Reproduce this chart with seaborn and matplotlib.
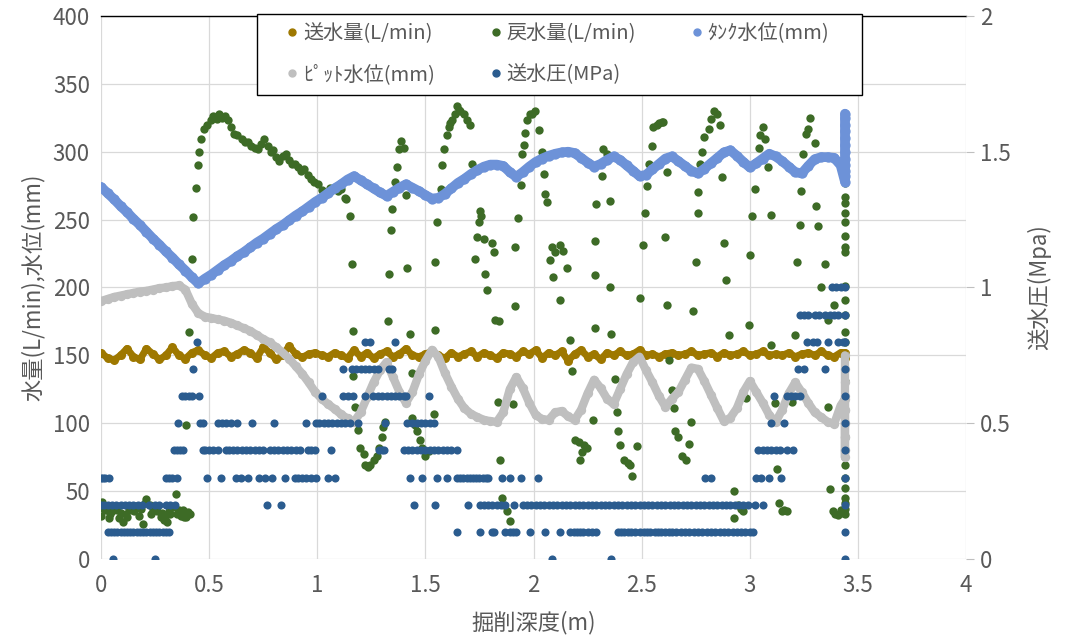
import numpy as np
import pandas as pd
import seaborn as sns
import matplotlib.pyplot as plt
from matplotlib.lines import Line2D
from matplotlib.patches import Rectangle
from matplotlib.ticker import MultipleLocator, FuncFormatter

# sampling depth (m) for the continuous series
depth = [
    0.00, 0.03, 0.06, 0.09, 0.12, 0.15, 0.18, 0.21, 0.24, 0.27,
    0.30, 0.33, 0.36, 0.39, 0.42, 0.45, 0.48, 0.51, 0.54, 0.57,
    0.60, 0.63, 0.66, 0.69, 0.72, 0.75, 0.78, 0.81, 0.84, 0.87,
    0.90, 0.93, 0.96, 0.99, 1.02, 1.05, 1.08, 1.11, 1.14, 1.17,
    1.20, 1.23, 1.26, 1.29, 1.32, 1.35, 1.38, 1.41, 1.44, 1.47,
    1.50, 1.53, 1.56, 1.59, 1.62, 1.65, 1.68, 1.71, 1.74, 1.77,
    1.80, 1.83, 1.86, 1.89, 1.92, 1.95, 1.98, 2.01, 2.04, 2.07,
    2.10, 2.13, 2.16, 2.19, 2.22, 2.25, 2.28, 2.31, 2.34, 2.37,
    2.40, 2.43, 2.46, 2.49, 2.52, 2.55, 2.58, 2.61, 2.64, 2.67,
    2.70, 2.73, 2.76, 2.79, 2.82, 2.85, 2.88, 2.91, 2.94, 2.97,
    3.00, 3.03, 3.06, 3.09, 3.12, 3.15, 3.18, 3.21, 3.24, 3.27,
    3.30, 3.33, 3.36, 3.39, 3.42,
]

supply_flow = [
    152, 148, 146.5, 150, 155, 149, 147, 155, 151, 147,
    150, 156, 150, 147.5, 152, 154, 150, 148, 152, 153,
    149, 151, 154, 152, 148, 156, 152, 147, 150, 157,
    151, 148.5, 151, 152, 150, 149, 152, 150, 148, 154,
    149, 152, 148, 151, 153, 149, 151, 155, 150, 149,
    151, 153, 150, 148, 152, 149, 151, 153, 149, 152,
    150, 148, 152, 151, 149, 153, 151, 154, 148, 152,
    150, 153, 146, 151, 154, 149, 151, 147, 152, 150,
    153, 150, 151, 154, 150, 151, 149, 151, 152, 150,
    151, 153, 150, 151, 152, 149, 152, 150, 151, 153,
    150, 151, 153, 150, 151, 150, 152, 149, 151, 152,
    150, 153, 150, 149, 152,
]

tank_level = [
    274, 269.5, 265, 260, 255.5, 250.5, 246, 241, 236, 231.5,
    226.5, 222, 217, 212.5, 207.5, 203, 206.5, 209.5, 213, 216.5,
    219.5, 223, 226, 229.5, 233, 236, 239.5, 243, 246, 249.5,
    253, 256, 259.5, 263, 266, 269.5, 273, 276, 279.5, 282,
    279, 276, 273, 270, 267.5, 270.5, 273.5, 276, 273.5, 271,
    268, 265.5, 266, 269, 273, 277, 280, 283.5, 286.5, 289,
    290.5, 290.5, 289.5, 285, 281.5, 285, 289, 292.5, 295, 297,
    298.5, 299.5, 300, 299, 295.5, 292, 289, 291, 294, 296.5,
    294, 290, 286, 282, 283, 287, 291, 295, 296.5, 293,
    289.5, 286, 284, 287.5, 291.5, 295.5, 299.5, 301, 297, 292.5,
    288.5, 291.5, 295, 298.5, 296.5, 293, 289, 285, 284, 289.5,
    294.5, 296, 296, 295.5, 290,
]

pit_level = [
    190, 191.5, 193, 194, 195, 196, 197, 197.5, 198.5, 199.5,
    200, 201, 201.5, 198.5, 188, 181, 178.5, 177.5, 176.5, 175.5,
    174, 172, 170, 168, 165, 162, 159.5, 156, 152, 147.5,
    142, 136.5, 130, 123, 118, 114, 110.5, 106.5, 103.5, 101,
    108, 119, 130, 139, 145, 134, 123, 115, 123, 136,
    146, 154, 149, 137, 127, 118, 111, 107, 104.5, 102.5,
    101.5, 101, 108, 125, 134, 126, 115, 106, 103, 102.5,
    108, 109, 105, 102.5, 110, 122, 132, 126, 118, 114,
    125, 136, 145, 149, 139, 130, 120, 112, 118, 123,
    132, 141, 140, 131, 121, 111, 101.5, 104, 111, 123,
    131, 123, 115, 106, 101, 110, 122, 130, 123, 115,
    108, 104.5, 101, 99.5, 113,
]

# readings at the final depth (3.44 m)
end_depth = 3.44
supply_end = [152, 148, 150]
tank_end = [278, 282, 286, 290, 295, 300, 305, 310, 315, 320, 325, 328]
pit_end = [118, 110, 100, 90, 80, 75, 80, 90, 100, 110, 120, 130, 140, 150]

# return flow (L/min): scattered readings
return_depth = [
    0.00, 0.005, 0.02, 0.035, 0.05, 0.065, 0.085, 0.10, 0.115, 0.13,
    0.145, 0.16, 0.175, 0.195, 0.21, 0.225, 0.24, 0.26, 0.275, 0.29,
    0.307, 0.32, 0.335, 0.347, 0.36, 0.37, 0.385, 0.40, 0.41,
    0.012, 0.042, 0.075, 0.093, 0.122, 0.153, 0.185, 0.203, 0.232, 0.25,
    0.283, 0.298, 0.314, 0.352, 0.378, 0.392,
    0.394, 0.407, 0.42, 0.427, 0.44, 0.449, 0.451, 0.461, 0.477, 0.49,
    0.508, 0.52, 0.535, 0.546, 0.56, 0.575, 0.585, 0.60, 0.615, 0.63,
    0.65, 0.665, 0.678, 0.695, 0.71, 0.724, 0.74, 0.755, 0.77, 0.785,
    0.794, 0.81, 0.825, 0.84, 0.856, 0.87, 0.885, 0.895, 0.91, 0.925,
    0.94, 0.955, 0.97, 0.985, 1.003, 1.02, 1.04, 1.06, 1.08, 1.095,
    1.11, 1.127, 1.135, 1.15, 1.16,
    1.166, 1.166, 1.174, 1.19, 1.198, 1.214, 1.22, 1.235, 1.245, 1.26,
    1.274, 1.285, 1.297, 1.305, 1.315,
    1.325, 1.33, 1.34, 1.346, 1.36, 1.37, 1.377, 1.385, 1.40, 1.408, 1.415,
    1.428, 1.436, 1.44, 1.45, 1.46, 1.476, 1.484, 1.50, 1.516, 1.54, 1.545,
    1.546, 1.554, 1.57, 1.577, 1.585, 1.60, 1.608, 1.615, 1.623, 1.635,
    1.646, 1.655, 1.66, 1.677, 1.69, 1.708,
    1.715, 1.73, 1.738, 1.746, 1.754, 1.758, 1.77, 1.777, 1.785, 1.81,
    1.815, 1.823,
    1.834, 1.842, 1.846, 1.854, 1.865, 1.877, 1.89, 1.906, 1.913,
    1.915, 1.928, 1.94, 1.946, 1.954, 1.96, 1.97, 1.985, 1.995, 2.008,
    2.023, 2.038, 2.046, 2.054, 2.06,
    2.077, 2.085, 2.09, 2.10, 2.123, 2.138, 2.154, 2.123, 2.17, 2.177,
    2.19, 2.208, 2.215, 2.223, 2.235, 2.246, 2.277, 2.285, 2.285, 2.285,
    2.29, 2.315, 2.323, 2.338, 2.354, 2.354, 2.357, 2.377, 2.385, 2.39,
    2.40, 2.42, 2.435, 2.446, 2.454, 2.477, 2.492,
    2.508, 2.515, 2.523, 2.534, 2.546, 2.554, 2.57, 2.58, 2.592, 2.60,
    2.608, 2.615, 2.615, 2.625, 2.64, 2.65, 2.656, 2.67, 2.685, 2.706,
    2.72, 2.73, 2.738,
    2.75, 2.76, 2.76, 2.77, 2.78, 2.79, 2.81, 2.82, 2.836, 2.847,
    2.86, 2.87, 2.88, 2.89, 2.906, 2.925, 2.925, 2.945, 2.96, 2.97,
    2.984, 2.997,
    3.003, 3.01, 3.023, 3.044, 3.047, 3.06, 3.07, 3.083, 3.097, 3.10,
    3.117, 3.128, 3.137, 3.148, 3.16, 3.17, 3.195, 3.208,
    3.216, 3.23, 3.236, 3.245, 3.258, 3.27, 3.278, 3.30, 3.305, 3.316,
    3.328, 3.35, 3.36, 3.36, 3.372, 3.383, 3.39, 3.395, 3.406, 3.42, 3.43,
    3.44, 3.44, 3.44, 3.44, 3.44, 3.44, 3.44, 3.44, 3.44, 3.44,
    3.44, 3.44, 3.44, 3.44, 3.44, 3.44, 3.44, 3.44, 3.44, 3.44,
    3.44, 3.44, 3.44, 3.44,
]
return_flow = [
    32, 42, 36, 30, 35, 38, 30, 27, 33, 37,
    36, 39, 32, 26, 44, 40, 36, 35, 31, 29,
    27, 33, 38, 47.5, 36, 32, 31, 34.5, 33,
    37, 33, 36, 34, 31, 35, 37, 41, 33, 38,
    34, 31, 35, 33, 36, 31,
    99, 167, 221, 252, 273, 290, 300, 309, 317, 320,
    323, 326, 324, 328, 325, 326, 323, 318, 313, 312,
    309, 307, 307, 304, 303, 302, 306, 309, 304, 300,
    301, 296, 293, 297, 298, 294, 291, 291, 289, 286,
    287, 283, 280, 278, 276, 272, 269, 273, 272.5, 271,
    272.5, 266, 265, 252.5, 217,
    168, 135, 112, 95, 82, 77, 69, 67.6, 69, 73,
    76, 82, 90, 97, 101,
    175, 210, 242, 258, 277.5, 289, 302, 308, 303, 268, 214,
    166, 137, 104, 99, 94, 88, 82, 76, 79.5, 107, 169,
    218.6, 248, 272.5, 290, 302, 312, 318, 321, 323, 328,
    334, 331, 330, 328, 323, 319.6,
    291, 221, 237, 248, 256.6, 253, 236, 210, 198, 232.6,
    226, 176,
    115.7, 175, 73, 45, 40, 35, 28, 114.5, 186.5,
    229.6, 251, 275.5, 298, 305, 314, 323, 327.7, 328, 330,
    316, 300, 283.6, 269, 263,
    220, 229.6, 207.6, 226, 231, 227, 214, 190.7, 161, 138.5,
    88, 86.5, 73, 79, 84, 81.6, 102.5, 170, 234.6, 209,
    261.5, 282, 302, 298, 264, 200.5, 165.4, 132.6, 108.6, 94,
    84, 73, 71, 69, 61, 83, 192,
    231, 255, 274.5, 291, 304.4, 318, 320, 321, 322, 321.6,
    237, 285, 187, 146.6, 124.5, 111, 94, 90, 75.5, 73,
    84.6, 101, 182.6,
    219, 270, 255, 291, 300, 310.5, 316.7, 324, 330, 327.7,
    319.6, 281.6, 233, 205.6, 165, 50, 30, 40, 37, 35,
    118.4, 172,
    224, 252.5, 272.5, 302.5, 312, 318, 309, 288.5, 253.4, 157.6,
    114.7, 66, 41, 35, 36, 35, 116, 165,
    218.6, 246.3, 271.3, 298, 313, 316.7, 324.5, 306.4, 260, 245.6,
    200.5, 217.4, 176, 112, 51.7, 35, 187, 33, 32.6, 36, 34,
    33, 37, 41, 45, 52, 60, 69, 80, 90, 131,
    150, 160, 167, 180, 191, 201, 226, 230, 238, 248,
    255, 262, 267, 277,
]

# supply pressure: depths (m) at which each pressure step (MPa) was read
press_0_0 = [0.056, 0.248, 2.085, 2.357, 3.44]
press_0_1 = [0.03, 0.045, 0.06, 0.075, 0.09, 0.105, 0.12, 0.135, 0.15, 0.165,
             0.18, 0.195, 0.21, 0.225, 0.24, 0.255, 0.27, 0.285, 0.30, 0.315,
             1.646, 1.754, 1.808, 1.815, 1.87, 1.89, 1.905, 1.92, 1.985, 2.054,
             2.123, 2.17, 2.185, 2.20, 2.215, 2.23, 2.25, 2.27, 2.29, 2.39,
             2.405, 2.42, 2.435, 2.45, 2.47, 2.49, 2.51, 2.525, 2.54, 2.56,
             2.575, 2.59, 2.61, 2.625, 2.64, 2.66, 2.68, 2.70, 2.72, 2.74,
             2.76, 2.78, 2.80, 2.82, 2.84, 2.86, 2.88, 2.90, 2.92, 2.94,
             2.96, 2.98, 3.00, 3.015, 3.44]
press_0_2 = [0.0, 0.015, 0.03, 0.05, 0.07, 0.09, 0.11, 0.13, 0.15, 0.17,
             0.19, 0.22, 0.25, 0.27, 0.30, 0.32, 0.34, 0.768, 0.83, 1.446,
             1.546, 1.697, 1.754, 1.77, 1.79, 1.81, 1.83, 1.85, 1.87, 1.91,
             1.95, 1.97, 1.99, 2.01, 2.03, 2.05, 2.07, 2.09, 2.11, 2.13,
             2.15, 2.17, 2.19, 2.21, 2.23, 2.25, 2.27, 2.29, 2.31, 2.33,
             2.35, 2.37, 2.39, 2.41, 2.43, 2.45, 2.47, 2.49, 2.51, 2.53,
             2.55, 2.57, 2.59, 2.61, 2.63, 2.65, 2.67, 2.69, 2.71, 2.73,
             2.75, 2.77, 2.79, 2.81, 2.83, 2.85, 2.87, 2.89, 2.91, 2.93,
             2.95, 2.97, 2.99, 3.023, 3.063, 3.44]
press_0_3 = [0.0, 0.01, 0.02, 0.035, 0.30, 0.315, 0.33, 0.35, 0.49, 0.557,
             0.624, 0.645, 0.678, 0.732, 0.76, 0.79, 0.85, 0.895, 0.91, 0.93,
             0.95, 0.97, 0.995, 1.05, 1.08, 1.43, 1.485, 1.554, 1.60, 1.646,
             1.66, 1.675, 1.69, 1.705, 1.72, 1.735, 1.75, 1.765, 1.78, 1.79,
             1.854, 1.89, 1.94, 2.02, 2.795, 2.82, 3.03, 3.05, 3.09, 3.145,
             3.44]
press_0_4 = [0.337, 0.35, 0.365, 0.38, 0.47, 0.48, 0.50, 0.52, 0.54, 0.577,
             0.59, 0.61, 0.63, 0.65, 0.67, 0.69, 0.71, 0.73, 0.75, 0.78,
             0.80, 0.82, 0.84, 0.86, 0.88, 0.90, 0.92, 0.957, 0.97, 0.99,
             1.062, 1.285, 1.30, 1.31, 1.40, 1.42, 1.44, 1.46, 1.48, 1.50,
             1.52, 1.54, 1.56, 1.58, 1.60, 1.62, 1.646, 3.04, 3.06, 3.08,
             3.10, 3.12, 3.14, 3.17, 3.20, 3.44]
press_0_5 = [0.356, 0.458, 0.47, 0.54, 0.56, 0.58, 0.60, 0.63, 0.70, 0.80,
             0.95, 0.995, 1.01, 1.03, 1.05, 1.07, 1.09, 1.11, 1.13, 1.15,
             1.19, 1.315, 1.415, 1.44, 1.46, 1.48, 1.50, 1.52, 1.54, 3.10,
             3.16, 3.44]
press_0_6 = [0.376, 0.39, 0.405, 0.42, 0.453, 1.023, 1.12, 1.14, 1.165, 1.22,
             1.258, 1.28, 1.30, 1.32, 1.34, 1.36, 1.38, 1.40, 1.41, 1.515,
             3.113, 3.17, 3.19, 3.21, 3.23, 3.44]
press_0_7 = [0.427, 1.12, 1.16, 1.18, 1.20, 1.22, 1.24, 1.26, 1.28, 1.33,
             1.345, 3.225, 3.25, 3.35, 3.44]
press_0_8 = [0.443, 1.22, 1.243, 1.358, 3.264, 3.29, 3.31, 3.36, 3.41, 3.43, 3.44]
press_0_9 = [3.23, 3.25, 3.27, 3.30, 3.32, 3.35, 3.37, 3.39, 3.41, 3.44]
press_1_0 = [3.38, 3.40, 3.42, 3.44]

labels = ["送水量(L/min)", "戻水量(L/min)", "ﾀﾝｸ水位(mm)", "ﾋﾟｯﾄ水位(mm)", "送水圧(MPa)"]
colors = ["#9e7800", "#3d6b26", "#6d92d8", "#bfbfbf", "#2b5c8f"]

supply_df = pd.DataFrame({"depth": depth + [end_depth] * len(supply_end),
                          "value": supply_flow + supply_end})
tank_df = pd.DataFrame({"depth": depth + [end_depth] * len(tank_end),
                        "value": tank_level + tank_end})
pit_df = pd.DataFrame({"depth": depth + [end_depth] * len(pit_end),
                       "value": pit_level + pit_end})
return_df = pd.DataFrame({"depth": return_depth, "value": return_flow})

press_rows = []
for mpa, ds in [(0.0, press_0_0), (0.1, press_0_1), (0.2, press_0_2), (0.3, press_0_3),
                (0.4, press_0_4), (0.5, press_0_5), (0.6, press_0_6), (0.7, press_0_7),
                (0.8, press_0_8), (0.9, press_0_9), (1.0, press_1_0)]:
    press_rows += [(d, mpa) for d in ds]
press_df = pd.DataFrame(press_rows, columns=["depth", "mpa"])

sns.set_theme(style="white")
plt.rcParams["font.family"] = ["Noto Sans CJK JP", "DejaVu Sans"]
text_c = "#595959"

fig = plt.figure(figsize=(10.67, 6.36), dpi=100)
ax = fig.add_axes([0.0947, 0.1211, 0.8107, 0.8538])
ax2 = ax.twinx()


def dense_series(df, color, lw, size):
    # readings are so close together that they merge into a band
    sns.lineplot(data=df, x="depth", y="value", ax=ax, color=color, lw=lw,
                 sort=False, estimator=None, solid_capstyle="round",
                 solid_joinstyle="round")
    sns.scatterplot(data=df, x="depth", y="value", ax=ax, color=color, s=size, linewidth=0)


dense_series(supply_df, colors[0], 5.0, 42)
sns.scatterplot(data=return_df, x="depth", y="value", ax=ax, color=colors[1], s=36, linewidth=0)
dense_series(tank_df, colors[2], 7.0, 55)
dense_series(pit_df, colors[3], 6.0, 45)
sns.scatterplot(data=press_df, x="depth", y="mpa", ax=ax2, color=colors[4], s=34, linewidth=0)

ax.set_xlim(0, 4)
ax.set_ylim(0, 400)
ax2.set_ylim(0, 2)
ax.xaxis.set_major_locator(MultipleLocator(0.5))
ax.yaxis.set_major_locator(MultipleLocator(50))
ax2.yaxis.set_major_locator(MultipleLocator(0.5))
fmt = FuncFormatter(lambda v, p: f"{v:g}")
ax.xaxis.set_major_formatter(fmt)
ax2.yaxis.set_major_formatter(fmt)

ax.grid(True, color="#d9d9d9", linewidth=0.9)
ax.set_axisbelow(True)
ax2.grid(False)
for s in ["left", "right", "bottom"]:
    ax.spines[s].set_visible(False)
    ax2.spines[s].set_visible(False)
ax.spines["top"].set_color("black")
ax.spines["top"].set_linewidth(1.0)
ax2.spines["top"].set_visible(False)

ax.tick_params(axis="both", length=0, labelsize=16, labelcolor=text_c)
ax.tick_params(axis="y", pad=8)
ax.tick_params(axis="x", pad=11)
ax2.tick_params(axis="y", length=6, width=0.8, color="#bfbfbf", direction="out",
                labelsize=16, labelcolor=text_c, pad=4)

ax.set_xlabel("掘削深度(m)", fontsize=16, color=text_c, labelpad=10)
ax.set_ylabel("水量(L/min),水位(mm)", fontsize=16, color=text_c, labelpad=6)
ax2.set_ylabel("送水圧(Mpa)", fontsize=16, color=text_c, labelpad=12)

# legend box: frame drawn separately so its size matches the original
W, H = 1067, 636
frame = Rectangle((257 / W, 1 - 95 / H), (862 - 257) / W, (95 - 14) / H,
                  transform=fig.transFigure, facecolor="white", edgecolor="black",
                  linewidth=1.0, zorder=4, clip_on=False)
ax2.add_patch(frame)

handles = [Line2D([], [], marker="o", ls="", color=c, markersize=5) for c in colors]
order = [0, 3, 1, 4, 2]
leg = ax2.legend([handles[i] for i in order], [labels[i] for i in order],
                 ncol=3, loc="upper left", bbox_to_anchor=(269 / W, 1 - 23 / H),
                 bbox_transform=fig.transFigure, borderaxespad=0, borderpad=0,
                 fontsize=14.5, frameon=False, handletextpad=-0.6,
                 handlelength=2.3, columnspacing=1.85, labelspacing=1.0,
                 labelcolor=text_c)
leg.set_zorder(5)

fig.savefig("out.png", dpi=100)
